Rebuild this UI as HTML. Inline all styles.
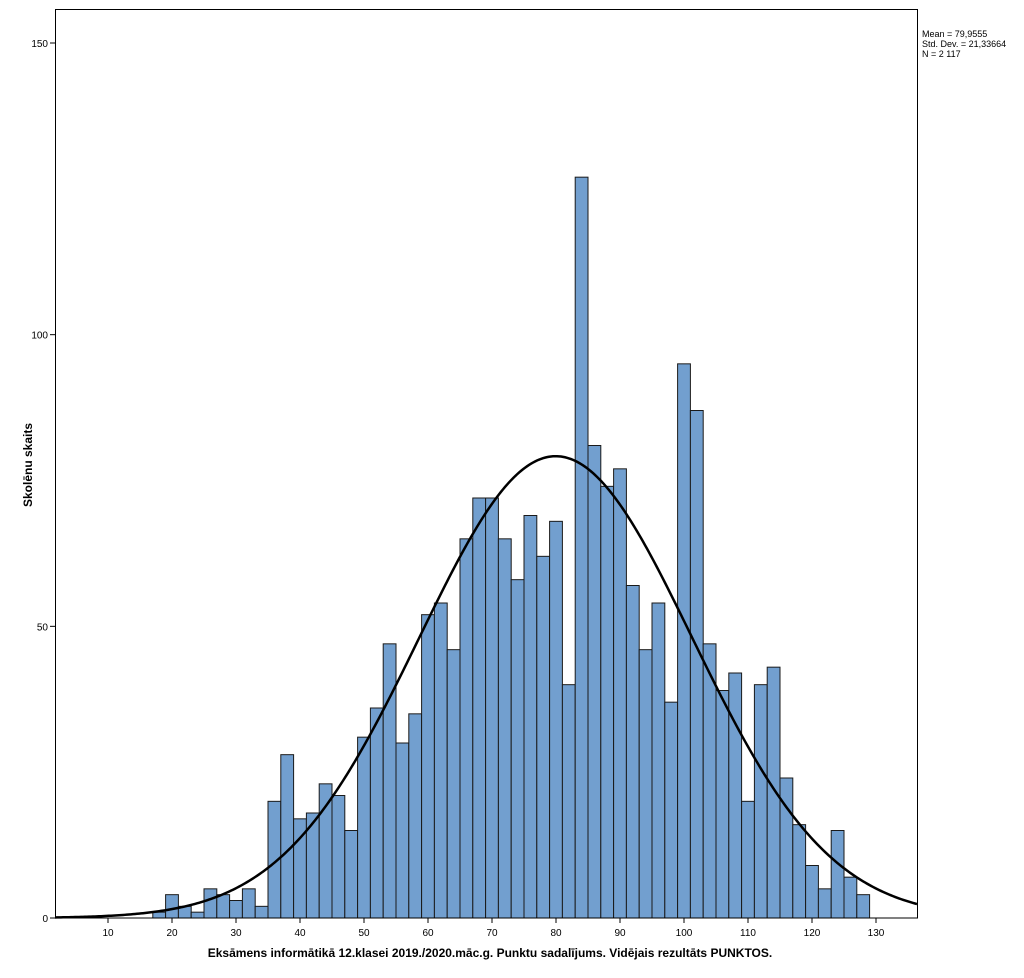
<!DOCTYPE html>
<html><head><meta charset="utf-8"><style>
html,body{margin:0;padding:0;background:#fff;}
svg{display:block;font-family:"Liberation Sans",Arial,sans-serif;}
</style></head><body>
<svg id="s" width="1024" height="978" viewBox="0 0 1024 978" xmlns="http://www.w3.org/2000/svg">
<rect x="0" y="0" width="1024" height="978" fill="#fff"/>
<g id="bars"></g>
<path id="curve" fill="none" stroke="#000" stroke-width="2.5"/>
<rect x="55.5" y="9.5" width="862" height="908.5" fill="none" stroke="#000" stroke-width="1"/>
<g id="ticks" stroke="#000" stroke-width="1"></g>
<g id="labels" font-size="10" fill="#000"></g>
<text x="922" y="37" font-size="9">Mean = 79,9555</text>
<text x="922" y="47" font-size="9">Std. Dev. = 21,33664</text>
<text x="922" y="57" font-size="9">N = 2 117</text>
<text x="490" y="957" font-size="12" font-weight="bold" text-anchor="middle">Eksāmens informātikā 12.klasei 2019./2020.māc.g. Punktu sadalījums. Vidējais rezultāts PUNKTOS.</text>
<text transform="translate(32,465) rotate(-90)" font-size="12" font-weight="bold" text-anchor="middle">Skolēnu skaits</text>
</svg>
<script>
var NS="http://www.w3.org/2000/svg";
function X(v){return 108+(v-10)*6.4;}
function Y(v){return 918-v*5.8333;}
var h=[1,4,2,1,5,4,3,5,2,20,28,17,18,23,21,15,31,36,47,30,35,52,54,46,65,72,72,65,58,69,62,68,40,127,81,74,77,57,46,54,37,95,87,47,39,42,20,40,43,24,16,9,5,15,7,4];
var g=document.getElementById("bars");
h.forEach(function(v,i){var s=17+2*i;var r=document.createElementNS(NS,"rect");
r.setAttribute("x",X(s));r.setAttribute("y",Y(v));r.setAttribute("width",12.8);r.setAttribute("height",v*5.8333);
r.setAttribute("fill","#729fcf");r.setAttribute("stroke","#1a1a1a");r.setAttribute("stroke-width","1");g.appendChild(r);});
var m=79.9555,sd=21.33664,k=2117*2/(sd*Math.sqrt(2*Math.PI));var d="";
for(var px=55;px<=917;px+=2){var v=(px-108)/6.4+10;var y=k*Math.exp(-0.5*Math.pow((v-m)/sd,2));d+=(px==55?"M":"L")+px+","+Y(y).toFixed(2);}
document.getElementById("curve").setAttribute("d",d);
var t=document.getElementById("ticks"),l=document.getElementById("labels");
for(var v=10;v<=130;v+=10){var x=X(v);var ln=document.createElementNS(NS,"line");ln.setAttribute("x1",x);ln.setAttribute("x2",x);ln.setAttribute("y1",918);ln.setAttribute("y2",923);t.appendChild(ln);
var tx=document.createElementNS(NS,"text");tx.setAttribute("x",x);tx.setAttribute("y",936);tx.setAttribute("text-anchor","middle");tx.textContent=v;l.appendChild(tx);}
[0,50,100,150].forEach(function(v){var y=Y(v);var ln=document.createElementNS(NS,"line");ln.setAttribute("x1",50);ln.setAttribute("x2",55);ln.setAttribute("y1",y);ln.setAttribute("y2",y);t.appendChild(ln);
var tx=document.createElementNS(NS,"text");tx.setAttribute("x",48);tx.setAttribute("y",y+4);tx.setAttribute("text-anchor","end");tx.textContent=v;l.appendChild(tx);});
</script>
</body></html>
